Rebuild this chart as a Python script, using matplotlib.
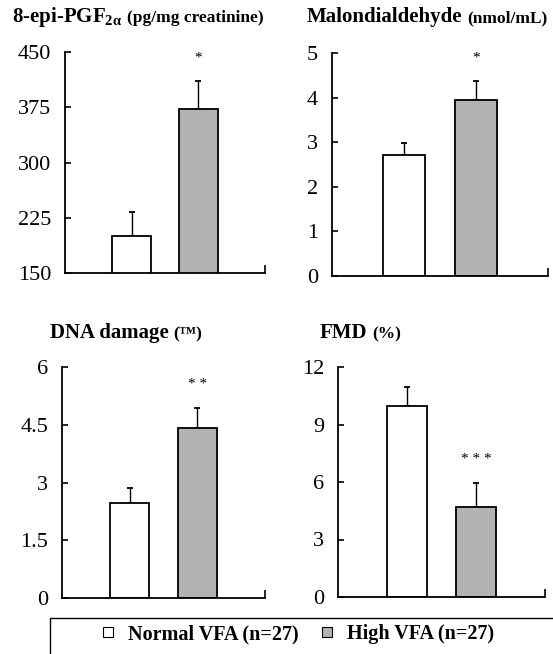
import matplotlib
matplotlib.use("Agg")
import matplotlib.pyplot as plt
from matplotlib.patches import Rectangle
from matplotlib.lines import Line2D

plt.rcParams['font.family'] = ['Liberation Serif', 'DejaVu Serif']
plt.rcParams['mathtext.fontset'] = 'custom'
plt.rcParams['mathtext.rm'] = 'Liberation Serif:bold'
plt.rcParams['mathtext.it'] = 'Liberation Serif:bold'
plt.rcParams['mathtext.bf'] = 'Liberation Serif:bold'

groups = ["Normal VFA (n=27)", "High VFA (n=27)"]
titles = [r"8-epi-PGF$_{\mathbf{2\alpha}}$", "Malondialdehyde", "DNA damage", "FMD"]
units = ["(pg/mg creatinine)", "(nmol/mL)", "(\u2122)", "(%)"]
means = [[200, 372], [2.71, 3.95], [2.47, 4.42], [9.97, 4.70]]
errors = [[33, 38], [0.27, 0.42], [0.39, 0.52], [0.99, 1.25]]
yticks = [[150, 225, 300, 375, 450], [0, 1, 2, 3, 4, 5], [0, 1.5, 3, 4.5, 6], [0, 3, 6, 9, 12]]
yticklabels = [["150", "225", "300", "375", "450"], ["0", "1", "2", "3", "4", "5"],
               ["0", "1.5", "3", "4.5", "6"], ["0", "3", "6", "9", "12"]]
signif = ["*", "*", "* *", "* * *"]
colors = ["white", "#b3b3b3"]

W, H = 553, 654
fig = plt.figure(figsize=(W / 100, H / 100), dpi=100)

# axes boxes in pixels: left, right, top, bottom
boxes = [(65, 265, 52, 273), (332, 548, 53, 276), (62, 265, 367, 598), (338, 545, 367, 597)]
title_pos = [(12, 22), (307, 22), (50, 338), (320, 338)]

for i in range(4):
    l, r, t, b = boxes[i]
    ax = fig.add_axes([l / W, 1 - b / H, (r - l) / W, (b - t) / H])
    x = [1, 2]
    ax.bar(x, means[i], width=0.58, color=colors, edgecolor="black", linewidth=1.3, zorder=2)
    ax.errorbar(x, means[i], yerr=[[0, 0], errors[i]], fmt="none", ecolor="black",
                elinewidth=1.0, capsize=2, capthick=1.3, zorder=1)
    ax.annotate(signif[i], xy=(2, means[i][1] + errors[i][1]), xytext=(0, 12),
                textcoords="offset points", ha="center", va="bottom", fontsize=11)
    ax.set_xlim(0, 3)
    ax.set_ylim(yticks[i][0], yticks[i][-1])
    ax.set_yticks(yticks[i])
    ax.set_yticklabels(yticklabels[i])
    ax.set_xticks([3])
    ax.set_xticklabels([])
    ax.tick_params(axis="y", direction="in", length=4, width=1.2, labelsize=16, pad=10)
    ax.tick_params(axis="x", direction="in", length=6, width=1.2)
    for s in ["top", "right"]:
        ax.spines[s].set_visible(False)
    for s in ["left", "bottom"]:
        ax.spines[s].set_linewidth(1.3)
    ax.patch.set_alpha(0)
    tx, ty = title_pos[i]
    t1 = fig.text(tx / W, 1 - ty / H, titles[i], fontsize=15, fontweight="bold", va="baseline")
    fig.canvas.draw()
    bb = t1.get_window_extent()
    fig.text((bb.x1 + 5) / W, 1 - ty / H, units[i], fontsize=12.5, fontweight="bold", va="baseline")

# legend frame
fig.add_artist(Rectangle((50 / W, -0.1), 1.0, (654 - 618) / H + 0.1, transform=fig.transFigure,
                         facecolor="none", edgecolor="black", linewidth=1.0, clip_on=False))
handles = [Line2D([], [], marker="s", linestyle="none", markersize=7, markerfacecolor=c,
                  markeredgecolor="black", markeredgewidth=0.8) for c in colors]
fig.legend(handles, groups, loc="center", bbox_to_anchor=(297 / W, 1 - 634 / H), ncol=2,
           frameon=False, prop={"weight": "bold", "size": 14.5}, handletextpad=0.6,
           columnspacing=1.0, handlelength=0.8)

fig.savefig("out.png", dpi=100)
